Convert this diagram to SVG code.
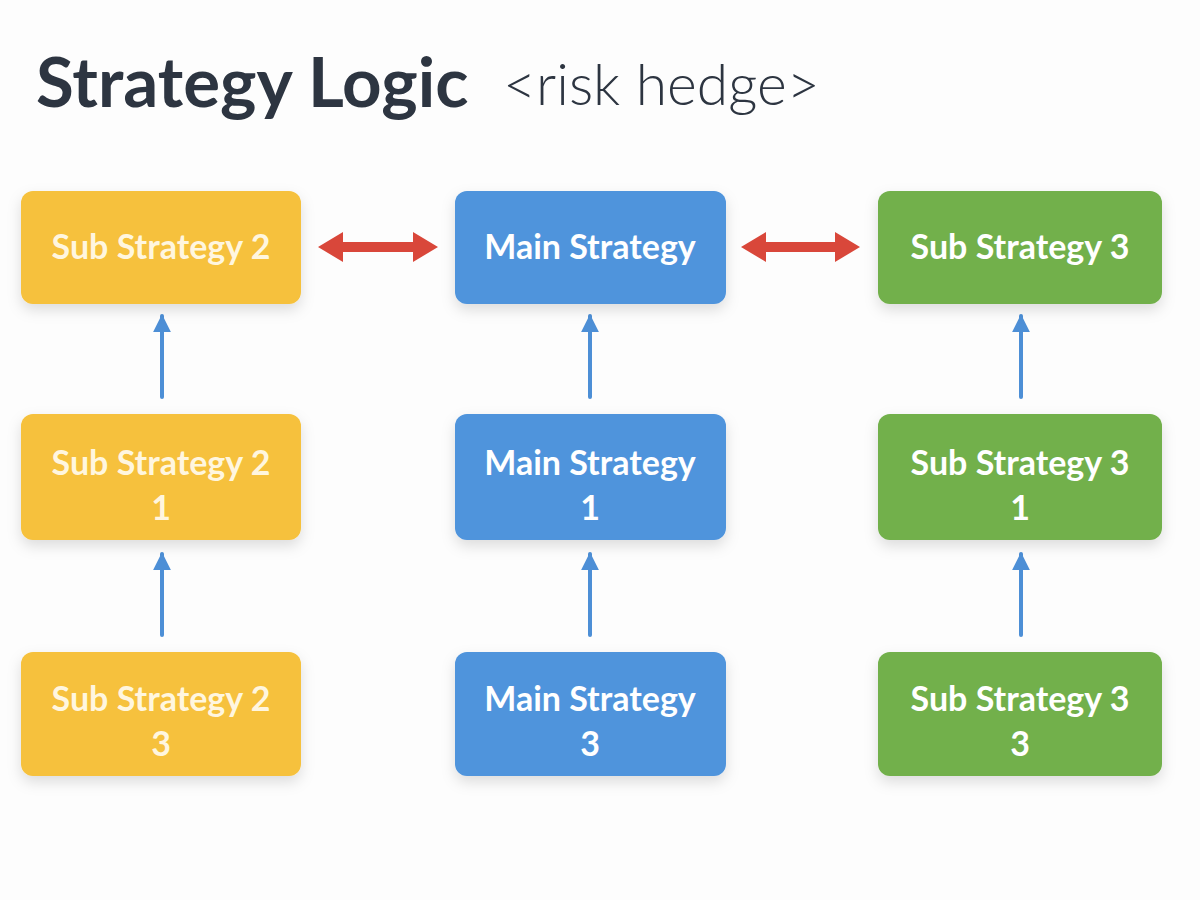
<svg xmlns="http://www.w3.org/2000/svg" width="1200" height="900" viewBox="0 0 1200 900">
<defs>
<filter id="sh" x="-20%" y="-20%" width="140%" height="150%">
<feDropShadow dx="0" dy="6" stdDeviation="7" flood-color="#000" flood-opacity="0.13"/>
</filter>
<marker id="bh" viewBox="0 0 10 10" refX="9" refY="5" markerWidth="18" markerHeight="18" markerUnits="userSpaceOnUse" orient="auto">
<path d="M0,0 L10,5 L0,10 z" fill="#4d8fd6"/>
</marker>
</defs>
<style>
.title{font-family:Lato,"Liberation Sans",sans-serif;font-weight:700;font-size:69px;fill:#2d3541}
.sub{font-family:Lato,"Liberation Sans",sans-serif;font-weight:300;font-size:57px;fill:#2d3541}
.box{filter:url(#sh)}
.y{fill:#f6c13c}
.b{fill:#4f94dc}
.g{fill:#72b04c}
.t{font-family:Lato,"Liberation Sans",sans-serif;font-weight:700;font-size:34px;text-anchor:middle}
.ty{fill:#fff6df}
.tw{fill:#ffffff}
.up{stroke:#4d8fd6;stroke-width:4;stroke-linecap:round;fill:none;marker-end:url(#bh)}
.red{fill:#d9473a}
</style>
<rect width="1200" height="900" fill="#fdfdfd"/>
<text class="title" x="36" y="107">Strategy Logic</text>
<text class="sub" x="503" y="105">&lt;risk hedge&gt;</text>

<g id="connectors">
<path class="red" d="M318,247 L343,232 L343,242 L413,242 L413,232 L438,247 L413,262 L413,252 L343,252 L343,262 z"/>
<path class="red" d="M741,247 L766,232 L766,242 L835,242 L835,232 L860,247 L835,262 L835,252 L766,252 L766,262 z"/>
<line class="up" x1="162" y1="397" x2="162" y2="316"/>
<line class="up" x1="162" y1="635" x2="162" y2="554"/>
<line class="up" x1="590" y1="397" x2="590" y2="316"/>
<line class="up" x1="590" y1="635" x2="590" y2="554"/>
<line class="up" x1="1021" y1="397" x2="1021" y2="316"/>
<line class="up" x1="1021" y1="635" x2="1021" y2="554"/>
</g>

<g id="sub2">
<rect class="box y" x="21" y="191" width="280" height="113" rx="12"/>
<text class="t ty" x="161" y="259">Sub Strategy 2</text>
</g>
<g id="sub2_1">
<rect class="box y" x="21" y="414" width="280" height="126" rx="12"/>
<text class="t ty" x="161" y="475">Sub Strategy 2</text>
<text class="t ty" x="161" y="520">1</text>
</g>
<g id="sub2_3">
<rect class="box y" x="21" y="652" width="280" height="124" rx="12"/>
<text class="t ty" x="161" y="711">Sub Strategy 2</text>
<text class="t ty" x="161" y="756">3</text>
</g>

<g id="main">
<rect class="box b" x="455" y="191" width="271" height="113" rx="12"/>
<text class="t tw" x="590" y="259">Main Strategy</text>
</g>
<g id="main_1">
<rect class="box b" x="455" y="414" width="271" height="126" rx="12"/>
<text class="t tw" x="590" y="475">Main Strategy</text>
<text class="t tw" x="590" y="520">1</text>
</g>
<g id="main_3">
<rect class="box b" x="455" y="652" width="271" height="124" rx="12"/>
<text class="t tw" x="590" y="711">Main Strategy</text>
<text class="t tw" x="590" y="756">3</text>
</g>

<g id="sub3">
<rect class="box g" x="878" y="191" width="284" height="113" rx="12"/>
<text class="t tw" x="1020" y="259">Sub Strategy 3</text>
</g>
<g id="sub3_1">
<rect class="box g" x="878" y="414" width="284" height="126" rx="12"/>
<text class="t tw" x="1020" y="475">Sub Strategy 3</text>
<text class="t tw" x="1020" y="520">1</text>
</g>
<g id="sub3_3">
<rect class="box g" x="878" y="652" width="284" height="124" rx="12"/>
<text class="t tw" x="1020" y="711">Sub Strategy 3</text>
<text class="t tw" x="1020" y="756">3</text>
</g>
</svg>
